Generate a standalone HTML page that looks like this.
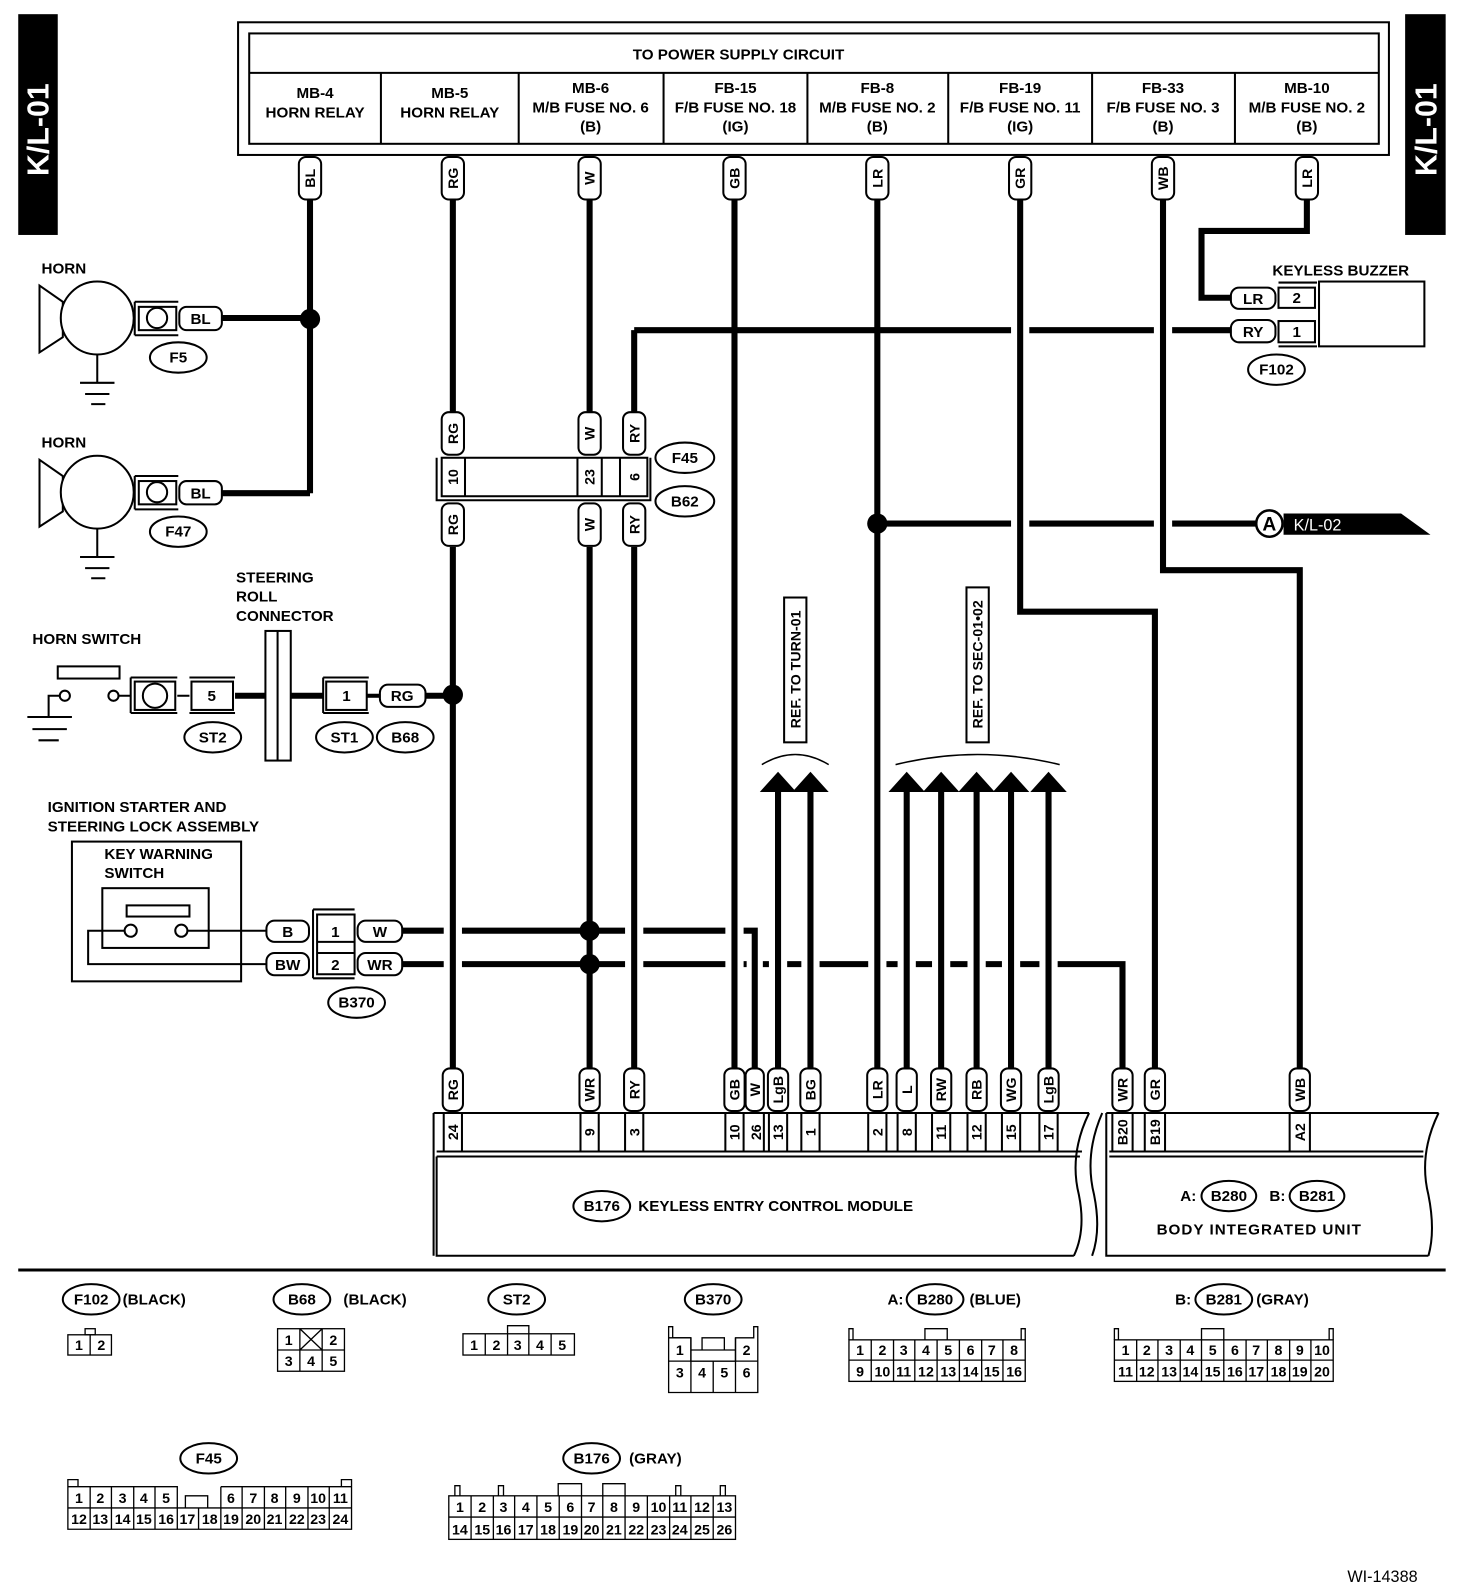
<!DOCTYPE html>
<html><head><meta charset="utf-8"><style>
html,body{margin:0;padding:0;background:#fff}
svg{display:block}
text{font-family:"Liberation Sans",sans-serif;font-weight:bold;fill:#000}
.t{font-size:15px}
.s{font-size:14px}
.w{stroke:#000;stroke-width:6;fill:none}
.l{stroke:#000;stroke-width:2;fill:none}
.p{stroke:#000;stroke-width:2;fill:#fff}
</style></head><body>
<svg width="1472" height="1590" viewBox="0 0 1453 1570" preserveAspectRatio="none" xmlns="http://www.w3.org/2000/svg">
<rect x="18" y="14" width="39" height="218" fill="#000"/>
<text transform="translate(48,128) rotate(-90)" text-anchor="middle" style="font-size:30px;fill:#fff">K/L-01</text>
<rect x="1387" y="14" width="40" height="218" fill="#000"/>
<text transform="translate(1418,128) rotate(-90)" text-anchor="middle" style="font-size:30px;fill:#fff">K/L-01</text>

<rect x="235" y="22" width="1136" height="131" class="l"/>
<rect x="246" y="33" width="1115" height="109" class="l"/>
<line x1="246" y1="72" x2="1361" y2="72" class="l"/>
<path class="l" d="M376 72V142M512 72V142M655 72V142M797 72V142M936 72V142M1078 72V142M1219 72V142"/>
<text x="729" y="59" text-anchor="middle" class="t">TO POWER SUPPLY CIRCUIT</text>
<g class="t" text-anchor="middle">
<text x="311" y="97">MB-4</text><text x="311" y="116">HORN RELAY</text>
<text x="444" y="97">MB-5</text><text x="444" y="116">HORN RELAY</text>
<text x="583" y="92">MB-6</text><text x="583" y="111">M/B FUSE NO. 6</text><text x="583" y="130">(B)</text>
<text x="726" y="92">FB-15</text><text x="726" y="111">F/B FUSE NO. 18</text><text x="726" y="130">(IG)</text>
<text x="866" y="92">FB-8</text><text x="866" y="111">M/B FUSE NO. 2</text><text x="866" y="130">(B)</text>
<text x="1007" y="92">FB-19</text><text x="1007" y="111">F/B FUSE NO. 11</text><text x="1007" y="130">(IG)</text>
<text x="1148" y="92">FB-33</text><text x="1148" y="111">F/B FUSE NO. 3</text><text x="1148" y="130">(B)</text>
<text x="1290" y="92">MB-10</text><text x="1290" y="111">M/B FUSE NO. 2</text><text x="1290" y="130">(B)</text>
</g>

<path class="w" d="M306 197V487M219 314H306M219 487H306
M447 197V408M447 540V1055
M582 197V408M582 540V1055
M626 326V408M626 540V1055M626 326H998M1016 326H1139M1157 326H1215
M725 197V1055
M866 197V1055M866 517H998M1016 517H1139M1157 517H1240
M1007 197V604H1140V1055
M1148 197V563H1283V1055
M1290 197V228H1186V294H1215
M232 687H263M287 687H319M420 687H447
M397 919H438M456 919H617M635 919H716M734 919H745V1055
M397 952H438M456 952H617M635 952H716M734 952H737M753 952H759M777 952H791M809 952H857M875 952H886M904 952H920M938 952H955M973 952H989M1007 952H1026M1044 952H1108V1055
M768 782V1055M800 782V1055M895 782V1055M929 782V1055M964 782V1055M998 782V1055M1035 782V1055"/>
<g fill="#000">
<circle cx="306" cy="315" r="10"/><circle cx="447" cy="686" r="10"/><circle cx="582" cy="919" r="10"/><circle cx="582" cy="952" r="10"/><circle cx="866" cy="517" r="10"/>
</g>

<g class="p">
<rect x="295" y="155" width="22" height="42" rx="7"/><rect x="436" y="155" width="22" height="42" rx="7"/><rect x="571" y="155" width="22" height="42" rx="7"/><rect x="714" y="155" width="22" height="42" rx="7"/><rect x="855" y="155" width="22" height="42" rx="7"/><rect x="996" y="155" width="22" height="42" rx="7"/><rect x="1137" y="155" width="22" height="42" rx="7"/><rect x="1279" y="155" width="22" height="42" rx="7"/>
</g>
<g class="s" text-anchor="middle">
<text transform="translate(311,176) rotate(-90)">BL</text>
<text transform="translate(452,176) rotate(-90)">RG</text>
<text transform="translate(587,176) rotate(-90)">W</text>
<text transform="translate(730,176) rotate(-90)">GB</text>
<text transform="translate(871,176) rotate(-90)">LR</text>
<text transform="translate(1012,176) rotate(-90)">GR</text>
<text transform="translate(1153,176) rotate(-90)">WB</text>
<text transform="translate(1295,176) rotate(-90)">LR</text>
</g>

<g>
<text x="41" y="270" class="t">HORN</text>
<polygon points="39,282 62,298 62,333 39,348" class="l"/>
<circle cx="96" cy="314" r="36" class="p"/>
<path class="l" d="M96 350V378M79 378H113M84 389H108M90 399H104"/>
<path class="l" d="M133 298H176M133 331H176M133 298V331"/>
<rect x="137" y="303" width="37" height="23" class="l"/>
<circle cx="155" cy="314" r="10" class="l"/>
<rect x="177" y="303" width="42" height="23" rx="7" class="p"/>
<text x="198" y="320" text-anchor="middle" class="t">BL</text>
<ellipse cx="176" cy="353" rx="28" ry="15" class="l"/>
<text x="176" y="358" text-anchor="middle" class="t">F5</text>
</g>
<g transform="translate(0,172)">
<text x="41" y="270" class="t">HORN</text>
<polygon points="39,282 62,298 62,333 39,348" class="l"/>
<circle cx="96" cy="314" r="36" class="p"/>
<path class="l" d="M96 350V378M79 378H113M84 389H108M90 399H104"/>
<path class="l" d="M133 298H176M133 331H176M133 298V331"/>
<rect x="137" y="303" width="37" height="23" class="l"/>
<circle cx="155" cy="314" r="10" class="l"/>
<rect x="177" y="303" width="42" height="23" rx="7" class="p"/>
<text x="198" y="320" text-anchor="middle" class="t">BL</text>
<ellipse cx="176" cy="353" rx="28" ry="15" class="l"/>
<text x="176" y="358" text-anchor="middle" class="t">F47</text>
</g>

<path class="l" d="M431 452V494H642V452"/>
<rect x="436" y="452" width="203" height="38" class="p"/>
<path class="l" d="M459 452V490M570 452V490M594 452V490M612 452V490"/>
<g class="p">
<rect x="436" y="407" width="22" height="42" rx="7"/><rect x="571" y="407" width="22" height="42" rx="7"/><rect x="615" y="407" width="22" height="42" rx="7"/>
<rect x="436" y="497" width="22" height="42" rx="7"/><rect x="571" y="497" width="22" height="42" rx="7"/><rect x="615" y="497" width="22" height="42" rx="7"/>
</g>
<g class="s" text-anchor="middle">
<text transform="translate(452,428) rotate(-90)">RG</text><text transform="translate(587,428) rotate(-90)">W</text><text transform="translate(631,428) rotate(-90)">RY</text>
<text transform="translate(452,471) rotate(-90)">10</text><text transform="translate(587,471) rotate(-90)">23</text><text transform="translate(631,471) rotate(-90)">6</text>
<text transform="translate(452,518) rotate(-90)">RG</text><text transform="translate(587,518) rotate(-90)">W</text><text transform="translate(631,518) rotate(-90)">RY</text>
</g>
<ellipse cx="676" cy="452" rx="29" ry="15" class="l"/><text x="676" y="457" text-anchor="middle" class="t">F45</text>
<ellipse cx="676" cy="495" rx="29" ry="15" class="l"/><text x="676" y="500" text-anchor="middle" class="t">B62</text>

<text x="233" y="575" class="t">STEERING</text><text x="233" y="594" class="t">ROLL</text><text x="233" y="613" class="t">CONNECTOR</text>
<text x="32" y="636" class="t">HORN SWITCH</text>
<rect x="57" y="658" width="61" height="12" class="l"/>
<circle cx="64" cy="687" r="5" class="p"/><circle cx="112" cy="687" r="5" class="p"/>
<path class="l" d="M59 687H48V708M27 708H71M32 720H66M38 731H58M117 687H129"/>
<path class="l" d="M129 669H175M129 704H175M129 669V704"/>
<rect x="133" y="673" width="40" height="28" class="l"/>
<circle cx="153" cy="687" r="12" class="l"/>
<line x1="175" y1="687" x2="187" y2="687" class="l"/>
<path class="l" d="M187 669H232M187 704H232"/>
<rect x="189" y="673" width="41" height="28" class="l"/>
<text x="209" y="692" text-anchor="middle" class="t">5</text>
<rect x="262" y="623" width="25" height="128" class="p"/>
<line x1="274" y1="623" x2="274" y2="751" class="l"/>
<path class="l" d="M319 669H364M319 704H364M319 669V704"/>
<rect x="322" y="673" width="40" height="28" class="l"/>
<text x="342" y="692" text-anchor="middle" class="t">1</text>
<line x1="362" y1="687" x2="375" y2="687" class="w" style="stroke-width:4"/>
<rect x="375" y="676" width="45" height="22" rx="8" class="p"/>
<text x="397" y="692" text-anchor="middle" class="t">RG</text>
<ellipse cx="210" cy="728" rx="28" ry="15" class="l"/><text x="210" y="733" text-anchor="middle" class="t">ST2</text>
<ellipse cx="340" cy="728" rx="28" ry="15" class="l"/><text x="340" y="733" text-anchor="middle" class="t">ST1</text>
<ellipse cx="400" cy="728" rx="28" ry="15" class="l"/><text x="400" y="733" text-anchor="middle" class="t">B68</text>

<text x="47" y="802" class="t">IGNITION STARTER AND</text>
<text x="47" y="821" class="t">STEERING LOCK ASSEMBLY</text>
<rect x="71" y="831" width="167" height="138" class="l"/>
<text x="103" y="848" class="t">KEY WARNING</text><text x="103" y="867" class="t">SWITCH</text>
<rect x="101" y="877" width="105" height="59" class="l"/>
<rect x="125" y="894" width="62" height="11" class="l"/>
<circle cx="129" cy="919" r="6" class="p"/><circle cx="179" cy="919" r="6" class="p"/>
<path class="l" d="M185 919H263M123 919H87V952H263"/>
<rect x="263" y="909" width="42" height="21" rx="8" class="p"/><text x="284" y="925" text-anchor="middle" class="t">B</text>
<rect x="263" y="941" width="42" height="22" rx="8" class="p"/><text x="284" y="958" text-anchor="middle" class="t">BW</text>
<path class="l" d="M309 898H350M309 966H350M309 898V966"/>
<rect x="313" y="903" width="37" height="59" class="l"/>
<path class="l" d="M313 930H350M313 941H350"/>
<text x="331" y="925" text-anchor="middle" class="t">1</text><text x="331" y="958" text-anchor="middle" class="t">2</text>
<rect x="353" y="909" width="44" height="21" rx="8" class="p"/><text x="375" y="925" text-anchor="middle" class="t">W</text>
<rect x="353" y="941" width="44" height="22" rx="8" class="p"/><text x="375" y="958" text-anchor="middle" class="t">WR</text>
<ellipse cx="352" cy="990" rx="28" ry="15" class="l"/><text x="352" y="995" text-anchor="middle" class="t">B370</text>

<g fill="#000">
<polygon points="768,762 750,782 786,782"/><polygon points="800,762 782,782 818,782"/>
<polygon points="895,762 877,782 913,782"/><polygon points="929,762 911,782 947,782"/><polygon points="964,762 946,782 982,782"/><polygon points="998,762 980,782 1016,782"/><polygon points="1035,762 1017,782 1053,782"/>
</g>
<path class="l" style="stroke-width:1.5" d="M752 755Q785 735 818 755M884 755Q965 735 1046 755"/>
<rect x="774" y="590" width="22" height="143" class="p"/>
<text transform="translate(790,661) rotate(-90)" text-anchor="middle" class="s">REF. TO TURN-01</text>
<rect x="954" y="580" width="22" height="153" class="p"/>
<text transform="translate(970,656) rotate(-90)" text-anchor="middle" class="s">REF. TO SEC-01•02</text>

<circle cx="1253" cy="517" r="13" class="p" style="stroke-width:2.5"/>
<text x="1253" y="524" text-anchor="middle" style="font-size:19px">A</text>
<polygon points="1267,507 1383,507 1412,528 1267,528" fill="#000"/>
<text x="1277" y="524" style="font-size:16px;fill:#fff;font-weight:normal">K/L-02</text>

<text x="1256" y="272" class="t">KEYLESS BUZZER</text>
<rect x="1302" y="278" width="104" height="64" class="l"/>
<path class="l" d="M1262 279H1300M1262 342H1300"/>
<rect x="1262" y="284" width="36" height="20" class="l"/><rect x="1262" y="317" width="36" height="21" class="l"/>
<text x="1280" y="299" text-anchor="middle" class="t">2</text><text x="1280" y="333" text-anchor="middle" class="t">1</text>
<rect x="1215" y="284" width="44" height="21" rx="8" class="p"/><text x="1237" y="300" text-anchor="middle" class="t">LR</text>
<rect x="1215" y="316" width="44" height="22" rx="8" class="p"/><text x="1237" y="333" text-anchor="middle" class="t">RY</text>
<ellipse cx="1260" cy="365" rx="28" ry="15" class="l"/><text x="1260" y="370" text-anchor="middle" class="t">F102</text>

<path class="l" d="M428 1099V1240M431 1142V1240H1060M428 1099H1075M431 1137H1068M431 1142H1066"/>
<path class="l" d="M1075 1099Q1055 1140 1065 1180Q1072 1215 1060 1240"/>
<path class="l" d="M438 1099V1137M456 1099V1137M573 1099V1137M591 1099V1137M617 1099V1137M635 1099V1137M716 1099V1137M734 1099V1137M754 1099V1137M759 1099V1137M777 1099V1137M791 1099V1137M809 1099V1137M857 1099V1137M875 1099V1137M886 1099V1137M904 1099V1137M920 1099V1137M938 1099V1137M955 1099V1137M973 1099V1137M989 1099V1137M1007 1099V1137M1026 1099V1137M1044 1099V1137"/>
<g class="p">
<rect x="437" y="1055" width="20" height="42" rx="7"/><rect x="572" y="1055" width="20" height="42" rx="7"/><rect x="616" y="1055" width="20" height="42" rx="7"/><rect x="715" y="1055" width="20" height="42" rx="7"/><rect x="736" y="1055" width="18" height="42" rx="7"/><rect x="758" y="1055" width="20" height="42" rx="7"/><rect x="790" y="1055" width="20" height="42" rx="7"/><rect x="856" y="1055" width="20" height="42" rx="7"/><rect x="885" y="1055" width="20" height="42" rx="7"/><rect x="919" y="1055" width="20" height="42" rx="7"/><rect x="954" y="1055" width="20" height="42" rx="7"/><rect x="988" y="1055" width="20" height="42" rx="7"/><rect x="1025" y="1055" width="20" height="42" rx="7"/>
<rect x="1098" y="1055" width="20" height="42" rx="7"/><rect x="1130" y="1055" width="20" height="42" rx="7"/><rect x="1273" y="1055" width="20" height="42" rx="7"/>
</g>
<g class="s" text-anchor="middle">
<text transform="translate(452,1076) rotate(-90)">RG</text><text transform="translate(587,1076) rotate(-90)">WR</text><text transform="translate(631,1076) rotate(-90)">RY</text><text transform="translate(730,1076) rotate(-90)">GB</text><text transform="translate(750,1076) rotate(-90)">W</text><text transform="translate(773,1076) rotate(-90)">LgB</text><text transform="translate(805,1076) rotate(-90)">BG</text><text transform="translate(871,1076) rotate(-90)">LR</text><text transform="translate(900,1076) rotate(-90)">L</text><text transform="translate(934,1076) rotate(-90)">RW</text><text transform="translate(969,1076) rotate(-90)">RB</text><text transform="translate(1003,1076) rotate(-90)">WG</text><text transform="translate(1040,1076) rotate(-90)">LgB</text>
<text transform="translate(1113,1076) rotate(-90)">WR</text><text transform="translate(1145,1076) rotate(-90)">GR</text><text transform="translate(1288,1076) rotate(-90)">WB</text>
<text transform="translate(452,1118) rotate(-90)">24</text><text transform="translate(587,1118) rotate(-90)">9</text><text transform="translate(631,1118) rotate(-90)">3</text><text transform="translate(730,1118) rotate(-90)">10</text><text transform="translate(751,1118) rotate(-90)">26</text><text transform="translate(773,1118) rotate(-90)">13</text><text transform="translate(805,1118) rotate(-90)">1</text><text transform="translate(871,1118) rotate(-90)">2</text><text transform="translate(900,1118) rotate(-90)">8</text><text transform="translate(934,1118) rotate(-90)">11</text><text transform="translate(969,1118) rotate(-90)">12</text><text transform="translate(1003,1118) rotate(-90)">15</text><text transform="translate(1040,1118) rotate(-90)">17</text>
<text transform="translate(1113,1118) rotate(-90)">B20</text><text transform="translate(1145,1118) rotate(-90)">B19</text><text transform="translate(1288,1118) rotate(-90)">A2</text>
</g>
<ellipse cx="594" cy="1191" rx="28" ry="15" class="l"/><text x="594" y="1196" text-anchor="middle" class="t">B176</text>
<text x="630" y="1196" class="t">KEYLESS ENTRY CONTROL MODULE</text>

<path class="l" d="M1092 1099V1240H1410M1092 1099H1420M1095 1137H1405M1095 1142H1405"/>
<path class="l" d="M1420 1099Q1400 1140 1410 1180Q1417 1215 1410 1240"/>
<path class="l" d="M1088 1099Q1070 1140 1080 1180Q1087 1215 1078 1240"/>
<path class="l" d="M1098 1099V1137M1118 1099V1137M1130 1099V1137M1150 1099V1137M1273 1099V1137M1293 1099V1137"/>
<text x="1165" y="1186" class="t">A:</text>
<ellipse cx="1213" cy="1181" rx="27" ry="15" class="l"/><text x="1213" y="1186" text-anchor="middle" class="t">B280</text>
<text x="1253" y="1186" class="t">B:</text>
<ellipse cx="1300" cy="1181" rx="27" ry="15" class="l"/><text x="1300" y="1186" text-anchor="middle" class="t">B281</text>
<text x="1243" y="1219" text-anchor="middle" class="t" style="letter-spacing:1px">BODY INTEGRATED UNIT</text>

<line x1="18" y1="1254" x2="1427" y2="1254" stroke="#000" stroke-width="3"/>

<g class="t">
<ellipse cx="90" cy="1283" rx="28" ry="15" class="l"/><text x="90" y="1288" text-anchor="middle">F102</text><text x="121" y="1288">(BLACK)</text>
<ellipse cx="298" cy="1283" rx="28" ry="15" class="l"/><text x="298" y="1288" text-anchor="middle">B68</text><text x="339" y="1288">(BLACK)</text>
<ellipse cx="510" cy="1283" rx="28" ry="15" class="l"/><text x="510" y="1288" text-anchor="middle">ST2</text>
<ellipse cx="704" cy="1283" rx="28" ry="15" class="l"/><text x="704" y="1288" text-anchor="middle">B370</text>
<text x="876" y="1288">A:</text><ellipse cx="923" cy="1283" rx="28" ry="15" class="l"/><text x="923" y="1288" text-anchor="middle">B280</text><text x="957" y="1288">(BLUE)</text>
<text x="1160" y="1288">B:</text><ellipse cx="1208" cy="1283" rx="28" ry="15" class="l"/><text x="1208" y="1288" text-anchor="middle">B281</text><text x="1240" y="1288">(GRAY)</text>
<ellipse cx="206" cy="1440" rx="28" ry="15" class="l"/><text x="206" y="1445" text-anchor="middle">F45</text>
<ellipse cx="584" cy="1440" rx="28" ry="15" class="l"/><text x="584" y="1445" text-anchor="middle">B176</text><text x="621" y="1445">(GRAY)</text>
</g>
<g style="stroke:#000;stroke-width:1.3;fill:none">
<rect x="67" y="1318" width="43" height="20"/><line x1="89" y1="1318" x2="89" y2="1338"/><rect x="84" y="1312" width="10" height="6"/>
<rect x="274" y="1312" width="66" height="42"/><path d="M274 1333H340M296 1312V1354M318 1312V1354M296 1312L318 1333M318 1312L296 1333"/>
<rect x="457" y="1317" width="110" height="21"/><path d="M479 1317V1338M501 1317V1338M522 1317V1338M544 1317V1338M501 1317V1309H522V1317"/>
<path d="M660 1310V1375H748V1310H744V1321H726V1344H682V1321H664V1310Z"/><path d="M682 1321V1344M726 1321V1344M682 1333H726M693 1333V1321H715V1333M660 1344H748M682 1344V1375M704 1344V1375M726 1344V1375M660 1321H682"/>
<rect x="838" y="1323" width="174" height="41"/><path d="M838 1343H1012M860 1323V1364M882 1323V1364M903 1323V1364M925 1323V1364M947 1323V1364M969 1323V1364M990 1323V1364M838 1323V1312H842V1323M1012 1323V1312H1008V1323M913 1323V1312H935V1323"/>
<rect x="1100" y="1323" width="216" height="41"/><path d="M1100 1343H1316M1122 1323V1364M1143 1323V1364M1165 1323V1364M1186 1323V1364M1208 1323V1364M1230 1323V1364M1251 1323V1364M1273 1323V1364M1294 1323V1364M1100 1323V1312H1104V1323M1316 1323V1312H1312V1323M1186 1323V1312H1208V1323"/>
<path d="M67 1468H175V1489M218 1468H347V1510H67V1468M67 1489H347M89 1468V1510M110 1468V1510M132 1468V1510M153 1468V1510M175 1468V1510M196 1489V1510M218 1468V1510M239 1468V1510M261 1468V1510M282 1468V1510M304 1468V1510M325 1468V1510M183 1489V1477H205V1489M67 1468V1461H77V1468M347 1468V1461H337V1468"/>
<rect x="443" y="1477" width="283" height="43"/><path d="M443 1498H726M465 1477V1520M487 1477V1520M508 1477V1520M530 1477V1520M552 1477V1520M574 1477V1520M595 1477V1520M617 1477V1520M639 1477V1520M661 1477V1520M682 1477V1520M704 1477V1520M449 1477V1467H454V1477M492 1477V1467H497V1477M551 1477V1465H574V1477M595 1477V1465H617V1477M667 1477V1467H672V1477M711 1477V1467H716V1477"/>
</g>
<g style="font-size:14px;font-weight:normal" text-anchor="middle">
<text x="78" y="1333">1</text><text x="100" y="1333">2</text>
<text x="285" y="1328">1</text><text x="329" y="1328">2</text><text x="285" y="1349">3</text><text x="307" y="1349">4</text><text x="329" y="1349">5</text>
<text x="468" y="1333">1</text><text x="490" y="1333">2</text><text x="511" y="1333">3</text><text x="533" y="1333">4</text><text x="555" y="1333">5</text>
<text x="671" y="1338">1</text><text x="737" y="1338">2</text><text x="671" y="1360">3</text><text x="693" y="1360">4</text><text x="715" y="1360">5</text><text x="737" y="1360">6</text>
<text x="849" y="1338">1</text><text x="871" y="1338">2</text><text x="892" y="1338">3</text><text x="914" y="1338">4</text><text x="936" y="1338">5</text><text x="958" y="1338">6</text><text x="979" y="1338">7</text><text x="1001" y="1338">8</text>
<text x="849" y="1359">9</text><text x="871" y="1359">10</text><text x="892" y="1359">11</text><text x="914" y="1359">12</text><text x="936" y="1359">13</text><text x="958" y="1359">14</text><text x="979" y="1359">15</text><text x="1001" y="1359">16</text>
<text x="1111" y="1338">1</text><text x="1132" y="1338">2</text><text x="1154" y="1338">3</text><text x="1175" y="1338">4</text><text x="1197" y="1338">5</text><text x="1219" y="1338">6</text><text x="1240" y="1338">7</text><text x="1262" y="1338">8</text><text x="1283" y="1338">9</text><text x="1305" y="1338">10</text>
<text x="1111" y="1359">11</text><text x="1132" y="1359">12</text><text x="1154" y="1359">13</text><text x="1175" y="1359">14</text><text x="1197" y="1359">15</text><text x="1219" y="1359">16</text><text x="1240" y="1359">17</text><text x="1262" y="1359">18</text><text x="1283" y="1359">19</text><text x="1305" y="1359">20</text>
<text x="78" y="1484">1</text><text x="99" y="1484">2</text><text x="121" y="1484">3</text><text x="142" y="1484">4</text><text x="164" y="1484">5</text><text x="228" y="1484">6</text><text x="250" y="1484">7</text><text x="271" y="1484">8</text><text x="293" y="1484">9</text><text x="314" y="1484">10</text><text x="336" y="1484">11</text>
<text x="78" y="1505">12</text><text x="99" y="1505">13</text><text x="121" y="1505">14</text><text x="142" y="1505">15</text><text x="164" y="1505">16</text><text x="185" y="1505">17</text><text x="207" y="1505">18</text><text x="228" y="1505">19</text><text x="250" y="1505">20</text><text x="271" y="1505">21</text><text x="293" y="1505">22</text><text x="314" y="1505">23</text><text x="336" y="1505">24</text>
<text x="454" y="1493">1</text><text x="476" y="1493">2</text><text x="497" y="1493">3</text><text x="519" y="1493">4</text><text x="541" y="1493">5</text><text x="563" y="1493">6</text><text x="584" y="1493">7</text><text x="606" y="1493">8</text><text x="628" y="1493">9</text><text x="650" y="1493">10</text><text x="671" y="1493">11</text><text x="693" y="1493">12</text><text x="715" y="1493">13</text>
<text x="454" y="1515">14</text><text x="476" y="1515">15</text><text x="497" y="1515">16</text><text x="519" y="1515">17</text><text x="541" y="1515">18</text><text x="563" y="1515">19</text><text x="584" y="1515">20</text><text x="606" y="1515">21</text><text x="628" y="1515">22</text><text x="650" y="1515">23</text><text x="671" y="1515">24</text><text x="693" y="1515">25</text><text x="715" y="1515">26</text>
</g>
<text x="1330" y="1562" style="font-size:16px;font-weight:normal">WI-14388</text>
</svg>
</body></html>
